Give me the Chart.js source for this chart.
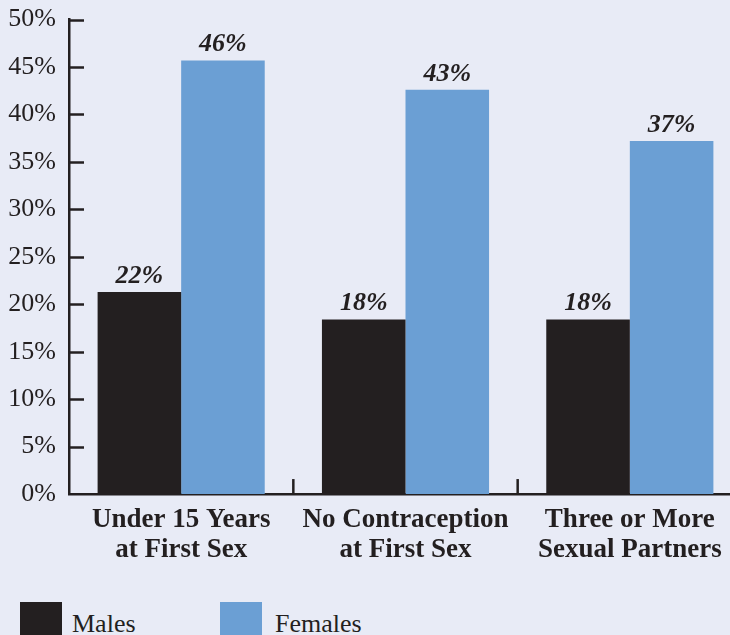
<!DOCTYPE html>
<html>
<head>
<meta charset="utf-8">
<script src="https://cdn.jsdelivr.net/npm/chart.js@4.4.1/dist/chart.umd.min.js"></script>
<style>
  html, body { margin: 0; padding: 0; background: #E8EBF6; overflow: hidden; width: 730px; height: 635px; }
  #wrap { position: absolute; left: 0; top: -9px; width: 748px; height: 592px; }
  .legend { position: absolute; top: 602px; font-family: "Liberation Serif", "Times New Roman", serif; font-size: 26px; color: #231F20; }
  .legend span { position: absolute; top: 0; width: 42px; height: 42px; }
  .legend b { position: absolute; top: 7px; font-weight: normal; white-space: nowrap; }
</style>
</head>
<body>
<div id="wrap"><canvas id="chart" width="748" height="592"></canvas></div>
<div class="legend" style="left:20px"><span style="background:#231F20"></span><b style="left:52px">Males</b></div>
<div class="legend" style="left:220px"><span style="background:#6B9FD4"></span><b style="left:55px">Females</b></div>
<script>
// chart data
const categories = [["Under 15 Years", "at First Sex"], ["No Contraception", "at First Sex"], ["Three or More", "Sexual Partners"]];
const males = [21.3, 18.4, 18.4];
const females = [45.7, 42.6, 37.2];
const maleLabels = ["22%", "18%", "18%"];
const femaleLabels = ["46%", "43%", "37%"];

const ink = "#231F20";
const serif = "'Liberation Serif', 'Times New Roman', serif";

// short tick marks inside the plot + separators between categories
const axisMarks = {
    id: "axisMarks",
    afterDraw(chart) {
        const { ctx, scales: { x, y }, chartArea } = chart;
        ctx.save();
        ctx.strokeStyle = ink;
        ctx.lineWidth = 2.5;
        y.ticks.forEach(t => {
            if (t.value === 0) return;
            const py = Math.round(y.getPixelForValue(t.value)) + 0.5;
            ctx.beginPath();
            ctx.moveTo(chartArea.left, py);
            ctx.lineTo(chartArea.left + 15, py);
            ctx.stroke();
        });
        for (let i = 0; i < categories.length - 1; i++) {
            const px = (x.getPixelForValue(i) + x.getPixelForValue(i + 1)) / 2;
            ctx.beginPath();
            ctx.moveTo(px, chartArea.bottom);
            ctx.lineTo(px, chartArea.bottom - 15);
            ctx.stroke();
        }
        ctx.restore();
    }
};

// percentage labels over the bars
const barLabels = {
    id: "barLabels",
    afterDatasetsDraw(chart) {
        const { ctx } = chart;
        const texts = [maleLabels, femaleLabels];
        ctx.save();
        ctx.font = "italic bold 26px " + serif;
        ctx.fillStyle = ink;
        ctx.textAlign = "center";
        ctx.textBaseline = "alphabetic";
        chart.data.datasets.forEach((ds, di) => {
            chart.getDatasetMeta(di).data.forEach((bar, i) => {
                ctx.fillText(texts[di][i], bar.x, bar.y - 9);
            });
        });
        ctx.restore();
    }
};

new Chart(document.getElementById("chart"), {
    type: "bar",
    data: {
        labels: categories,
        datasets: [
            { label: "Males", data: males, backgroundColor: ink, borderWidth: 0 },
            { label: "Females", data: females, backgroundColor: "#6B9FD4", borderWidth: 0 }
        ]
    },
    options: {
        responsive: false,
        animation: false,
        devicePixelRatio: 1,
        categoryPercentage: 0.745,
        barPercentage: 1,
        layout: { padding: { left: 0, top: 3, right: 6, bottom: 7 } },
        plugins: { legend: { display: false }, tooltip: { enabled: false } },
        scales: {
            x: {
                grid: { display: false, drawTicks: false },
                border: { display: true, color: ink, width: 2.5 },
                ticks: { color: ink, padding: 11, font: { family: serif, size: 27, weight: "bold", lineHeight: 1.11 } }
            },
            y: {
                min: 0,
                max: 50,
                afterFit: s => { s.width = 69; },
                grid: { display: false, drawTicks: false },
                border: { display: true, color: ink, width: 2.5 },
                ticks: {
                    stepSize: 5,
                    padding: 13,
                    color: ink,
                    font: { family: serif, size: 26 },
                    callback: v => v + "%"
                }
            }
        }
    },
    plugins: [axisMarks, barLabels]
});
</script>
</body>
</html>
